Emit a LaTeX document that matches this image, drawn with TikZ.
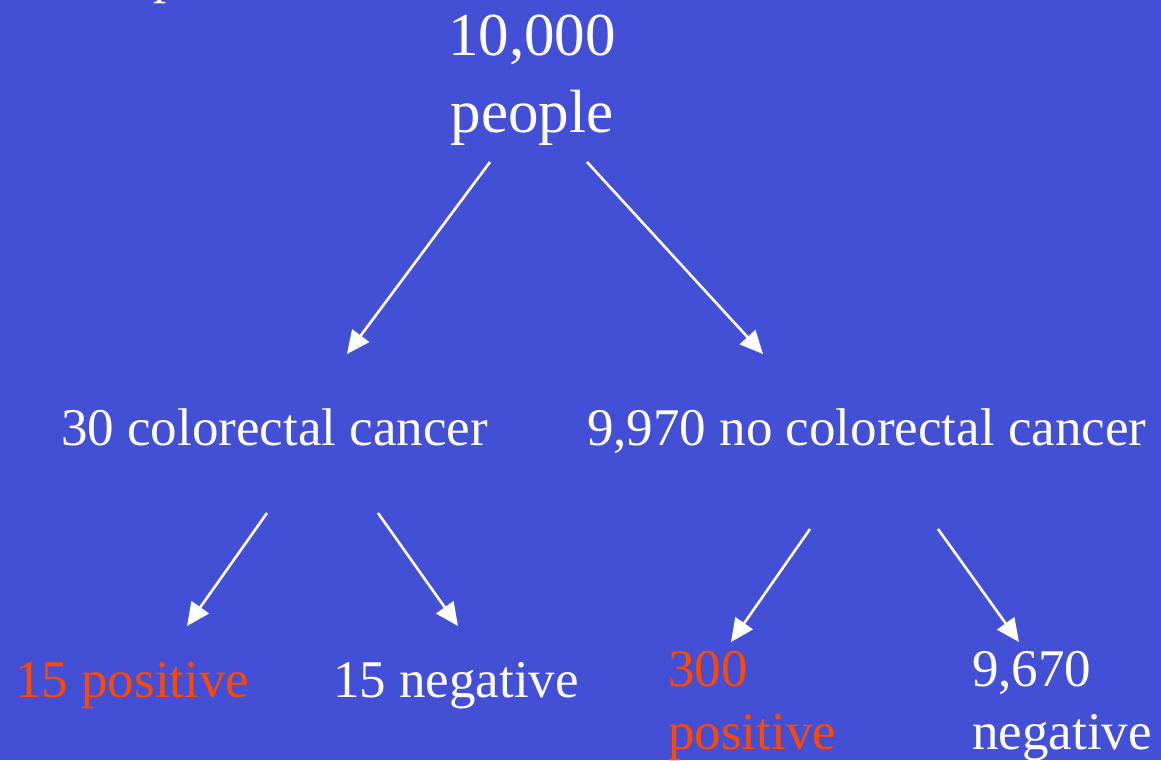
\documentclass[tikz,border=0pt]{standalone}
\usepackage{fontspec}
\setmainfont{Liberation Serif}
\usetikzlibrary{arrows.meta}
\definecolor{bg}{RGB}{67,80,214}
\definecolor{posc}{RGB}{255,72,0}
\begin{document}
\begin{tikzpicture}[x=1pt,y=-1pt,
  lbl/.style={text=white, inner sep=0pt, font=\fontsize{53}{63}\selectfont},
  poslbl/.style={lbl, text=posc},
  big/.style={text=white, inner sep=0pt, font=\fontsize{61}{77}\selectfont, align=center},
  arr/.style={draw=white, line width=2.6pt, -{Triangle[length=23pt,width=21pt]}}]
\fill[bg] (0,0) rectangle (1161,760);
\useasboundingbox (0,0) rectangle (1161,760);
\clip (0,0) rectangle (1161,760);
% cut-off title fragment
\node[lbl, anchor=base west] (title) at (153,-7) {p};
% nodes
\node[big, anchor=base] (top) at (532,132) {10,000\\people};
\node[lbl, anchor=base west] (cc) at (61,445) {30 colorectal cancer};
\node[lbl, anchor=base west] (nocc) at (587,445) {9,970 no colorectal cancer};
\node[poslbl, anchor=base west] (tp) at (15,697) {15 positive};
\node[lbl, anchor=base west] (fn) at (333,697) {15 negative};
\node[poslbl, anchor=base west, align=left] (fp) at (668,749) {300\\positive};
\node[lbl, anchor=base west, align=left] (tn) at (972,749) {9,670\\negative};
% arrow end points
\coordinate (t1) at (490,162); \coordinate (h1) at (347,354);
\coordinate (t2) at (587,162); \coordinate (h2) at (763,354);
\coordinate (c1) at (267,513); \coordinate (h3) at (187,626);
\coordinate (c2) at (378,513); \coordinate (h4) at (458,626);
\coordinate (n1) at (810,529); \coordinate (h5) at (731,642);
\coordinate (n2) at (938,529); \coordinate (h6) at (1019,642);
\draw[arr] (t1) -- (h1);
\draw[arr] (t2) -- (h2);
\draw[arr] (c1) -- (h3);
\draw[arr] (c2) -- (h4);
\draw[arr] (n1) -- (h5);
\draw[arr] (n2) -- (h6);
\end{tikzpicture}
\end{document}
